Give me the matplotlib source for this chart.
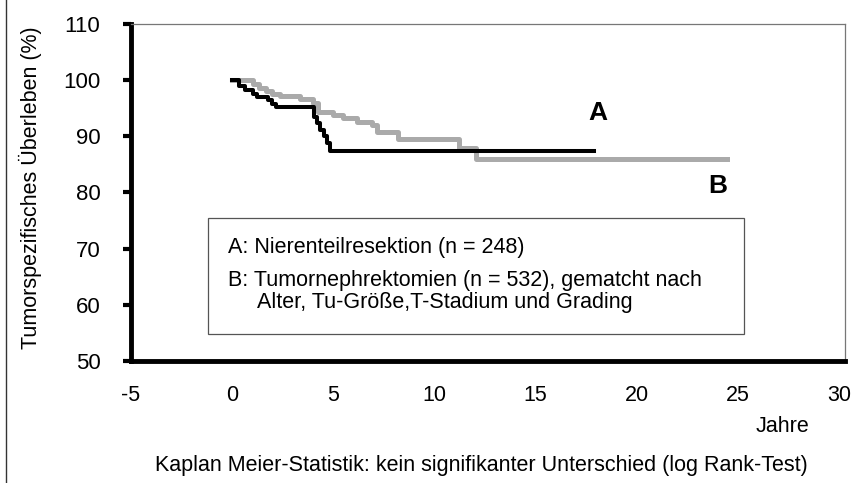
import matplotlib
matplotlib.use("Agg")
import matplotlib.pyplot as plt
from matplotlib.patches import Rectangle
from matplotlib.lines import Line2D

plt.rcParams["font.family"] = ["Liberation Sans", "DejaVu Sans"]

# Kaplan-Meier step curves (years, survival %)
years_a = [0.0, 0.35, 0.65, 1.05, 1.25, 1.76, 1.96, 2.16, 4.03, 4.18, 4.33, 4.53, 4.68, 4.83, 17.9]
surv_a = [100, 98.9, 98.2, 97.5, 97.0, 96.4, 95.8, 95.2, 93.5, 92.3, 91.2, 90.0, 88.8, 87.4, 87.4]

years_b = [0.0, 1.05, 1.35, 1.66, 1.96, 2.36, 3.37, 3.98, 4.23, 4.99, 5.49, 6.19, 6.9, 7.15, 8.21, 11.24, 12.04, 24.45]
surv_b = [100, 99.3, 98.6, 98.0, 97.6, 97.2, 96.6, 96.0, 94.3, 93.8, 93.2, 92.5, 92.0, 90.8, 89.5, 88.0, 85.9, 85.9]

x_ticks = [-5, 0, 5, 10, 15, 20, 25, 30]
y_ticks = [50, 60, 70, 80, 90, 100, 110]

label_a = "A: Nierenteilresektion (n = 248)"
label_b1 = "B: Tumornephrektomien (n = 532), gematcht nach"
label_b2 = "Alter, Tu-Größe,T-Stadium und Grading"

FS = 15.5

fig = plt.figure(figsize=(8.53, 4.83), dpi=100)
ax = fig.add_axes([0.1536, 0.2526, 0.837, 0.6977])

ax.step(years_b, surv_b, where="post", color="#aaaaaa", linewidth=3.6, zorder=2)
ax.step(years_a, surv_a, where="post", color="black", linewidth=2.9, zorder=3)

ax.set_xlim(-5, 30.3)
ax.set_ylim(50, 110)
ax.set_xticks(x_ticks)
ax.set_yticks(y_ticks)
ax.set_xticklabels([str(v) for v in x_ticks], fontsize=15.5)
ax.set_yticklabels([str(v) for v in y_ticks], fontsize=16)
ax.tick_params(axis="x", length=0, pad=17)
ax.tick_params(axis="y", length=6, width=3, direction="out", pad=16)

for side in ("left", "bottom"):
    ax.spines[side].set_linewidth(3.5)
    ax.spines[side].set_color("black")
for side in ("top", "right"):
    ax.spines[side].set_linewidth(0.9)
    ax.spines[side].set_color("#777777")

ax.set_ylabel("Tumorspezifisches Überleben (%)", fontsize=FS)
ax.yaxis.set_label_coords(-0.125, 0.513)

# curve labels
ax.text(18.1, 94.2, "A", fontsize=19, fontweight="bold", ha="center", va="center")
ax.text(24.0, 81.2, "B", fontsize=19, fontweight="bold", ha="center", va="center")

# legend box
ax.add_patch(Rectangle((0.108, 0.08), 0.751, 0.344, transform=ax.transAxes,
                       fill=False, edgecolor="#555555", linewidth=0.9))
ax.text(0.136, 0.338, label_a, transform=ax.transAxes, fontsize=FS, va="center")
ax.text(0.136, 0.240, label_b1, transform=ax.transAxes, fontsize=FS, va="center")
ax.text(0.176, 0.175, label_b2, transform=ax.transAxes, fontsize=FS, va="center")

fig.text(782 / 853, 1 - 427 / 483, "Jahre", fontsize=FS, ha="center", va="center")
fig.text(481 / 853, 1 - 465 / 483,
         "Kaplan Meier-Statistik: kein signifikanter Unterschied (log Rank-Test)",
         fontsize=FS, ha="center", va="center")

# thin frame line at the left edge of the image
fig.add_artist(Line2D([6 / 853, 6 / 853], [0, 1], transform=fig.transFigure,
                      color="#333333", linewidth=1.0))

fig.savefig("out.png", dpi=100)
